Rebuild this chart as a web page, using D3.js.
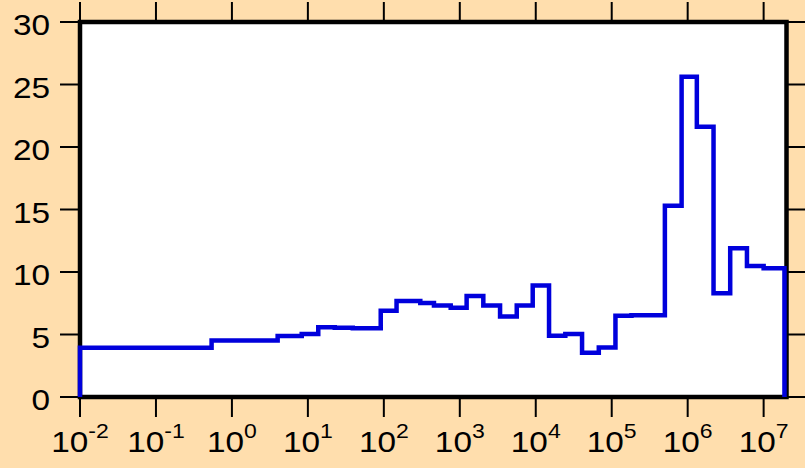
<!DOCTYPE html>
<html>
<head>
<meta charset="utf-8">
<script src="https://cdn.jsdelivr.net/npm/d3@7"></script>
<style>
  html, body { margin: 0; padding: 0; background: #FFDEAD; }
  svg { display: block; }
  text { font-family: "Liberation Sans", Arial, Helvetica, sans-serif; fill: #000; }
</style>
</head>
<body>
<svg id="chart" width="805" height="468"></svg>
<script>
// Histogram bin edges (x, log-spaced) and the height of each bin
const binEdges = [0.01, 0.54, 4.0, 8.3, 13.7, 22.6, 39, 91, 147, 302, 457, 759,
  1230, 2040, 3390, 5620, 9120, 14960, 24500, 40700, 67600, 112000, 182000,
  501000, 832000, 1.32e6, 2.19e6, 3.63e6, 6.03e6, 1e7, 1.88e7];
const binValues = [3.94, 4.53, 4.88, 5.04, 5.58, 5.55, 5.5, 6.9, 7.68, 7.52, 7.33,
  7.15, 8.08, 7.33, 6.45, 7.33, 8.93, 4.9, 5.04, 3.55, 3.97, 6.5, 6.55, 15.3,
  25.63, 21.63, 8.3, 11.9, 10.48, 10.3];

// Axis ticks
const xTickExponents = [-2, -1, 0, 1, 2, 3, 4, 5, 6, 7];
const yTicks = [0, 5, 10, 15, 20, 25, 30];

const svg = d3.select("#chart");
const plotL = 80, plotR = 786.5, plotT = 22, plotB = 397;
const tickLen = 20;
const textStretch = 1.15;

const x = d3.scaleLog().domain([0.01, 2e7]).range([plotL, plotR]);
const y = d3.scaleLinear().domain([0, 30]).range([plotB, plotT]);

// plot area
svg.append("rect")
  .attr("x", plotL).attr("y", plotT)
  .attr("width", plotR - plotL).attr("height", plotB - plotT)
  .attr("fill", "#fff");

// ticks on all four sides (outward)
const xTickVals = xTickExponents.map(e => Math.pow(10, e));
const tickG = svg.append("g").attr("stroke", "#000").attr("stroke-width", 2);
xTickVals.forEach(v => {
  tickG.append("line").attr("x1", x(v)).attr("x2", x(v)).attr("y1", plotB).attr("y2", plotB + tickLen);
  tickG.append("line").attr("x1", x(v)).attr("x2", x(v)).attr("y1", plotT).attr("y2", plotT - tickLen);
});
yTicks.forEach(v => {
  tickG.append("line").attr("x1", plotL).attr("x2", plotL - tickLen).attr("y1", y(v)).attr("y2", y(v));
  tickG.append("line").attr("x1", plotR).attr("x2", plotR + tickLen).attr("y1", y(v)).attr("y2", y(v));
});

// y tick labels
yTicks.forEach(v => {
  svg.append("g")
    .attr("transform", `translate(50,${y(v) + 13}) scale(${textStretch},1)`)
    .append("text")
    .attr("text-anchor", "end")
    .attr("font-size", 29)
    .text(v);
});

// x tick labels as 10 with superscript exponent
xTickExponents.forEach((e, i) => {
  const t = svg.append("g")
    .attr("transform", `translate(${x(xTickVals[i])},452) scale(${textStretch},1)`)
    .append("text")
    .attr("text-anchor", "middle")
    .attr("font-size", 29);
  t.append("tspan").text("10");
  t.append("tspan").attr("font-size", 20).attr("dy", -14).text(e < 0 ? "-" + (-e) : String(e));
});

// frame
svg.append("rect")
  .attr("x", plotL).attr("y", plotT)
  .attr("width", plotR - plotL).attr("height", plotB - plotT)
  .attr("fill", "none").attr("stroke", "#000").attr("stroke-width", 4.5);

// step outline of the histogram
const pts = [[binEdges[0], 0]];
binValues.forEach((v, i) => {
  pts.push([binEdges[i], v]);
  pts.push([binEdges[i + 1], v]);
});
pts.push([binEdges[binEdges.length - 1], 0]);

svg.append("path")
  .datum(pts)
  .attr("fill", "none")
  .attr("stroke", "#0000DC")
  .attr("stroke-width", 4.5)
  .attr("stroke-linejoin", "miter")
  .attr("d", d3.line().x(d => x(d[0])).y(d => y(d[1])));
</script>
</body>
</html>
